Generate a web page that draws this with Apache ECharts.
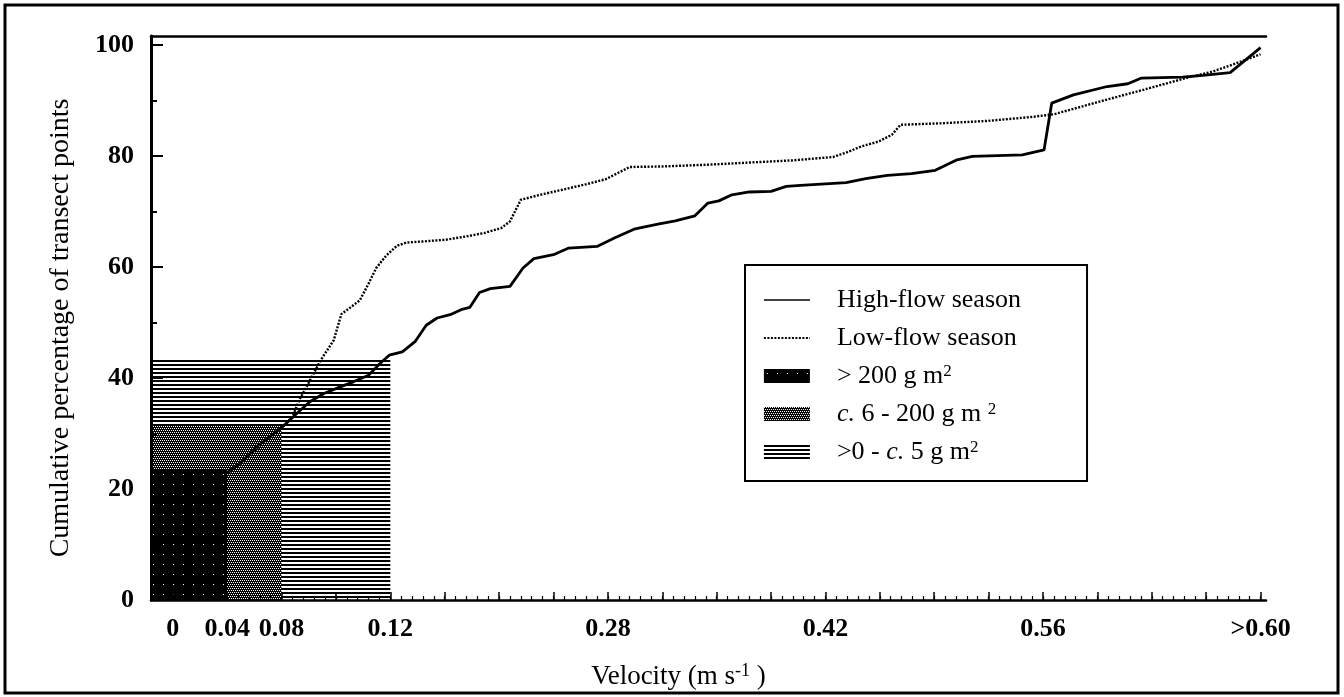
<!DOCTYPE html>
<html><head><meta charset="utf-8">
<script src="https://cdn.jsdelivr.net/npm/echarts@6/dist/echarts.min.js"></script>
<style>html,body{margin:0;padding:0;background:#fff}#c{width:1344px;height:697px}</style>
</head><body><div id="c"></div>
<script>
// ---- data (x is position along the drawn velocity axis, in axis units) ----
const xTickPositions = [0, 5, 10, 20, 40, 60, 80, 100];
const xTickLabels = ['0', '0.04', '0.08', '0.12', '0.28', '0.42', '0.56', '>0.60'];
const yTickValues = [0, 20, 40, 60, 80, 100];
const yMinorTickValues = [10, 30, 50, 70, 90];

const highFlow = [[5,22.8],[6.2,24.6],[7.7,27.6],[9.3,30.0],[10.2,31.4],[11.4,33.6],[12.6,35.7],[13.9,37.2],[15.4,38.4],[16.6,39.3],[18.0,40.5],[19.0,42.5],[19.9,44.1],[21.1,44.7],[22.3,46.6],[23.3,49.5],[24.3,50.8],[25.5,51.4],[26.5,52.3],[27.3,52.7],[28.2,55.4],[29.2,56.1],[31.0,56.5],[32.2,59.8],[33.2,61.5],[35.0,62.2],[36.4,63.4],[39.0,63.7],[40.6,65.2],[42.4,66.8],[44.6,67.7],[46.2,68.3],[48.0,69.2],[49.2,71.5],[50.2,71.9],[51.4,73.0],[53.0,73.5],[55.0,73.6],[56.4,74.5],[57.7,74.7],[61.9,75.2],[63.7,75.9],[65.7,76.5],[67.9,76.8],[70.1,77.4],[72.1,79.3],[73.5,79.9],[78.1,80.2],[80.1,81.1],[80.8,89.5],[82.8,91],[85.9,92.5],[87.8,93],[89.0,94],[92.8,94.2],[94.7,94.5],[97.2,95],[100,99.5]];

const lowFlow = [[5,23],[7,26],[9,29.5],[10.2,31.4],[11,33],[11.7,36.3],[12.3,38.4],[13,41],[13.6,43.2],[14.8,46.8],[15.5,51.5],[16.2,52.5],[17.2,54],[18.0,57],[18.7,59.8],[19.6,62],[20.6,63.8],[21.5,64.4],[23.1,64.6],[25.1,64.9],[27.0,65.5],[28.6,66.1],[30.2,67.0],[31.0,68.2],[32.0,72.1],[33.8,73.0],[35.8,73.9],[37.8,74.8],[39.8,75.8],[40.8,76.8],[42.0,78.0],[45.0,78.1],[49.0,78.4],[53.0,78.8],[57.0,79.2],[60.7,79.8],[61.9,80.6],[63.3,81.7],[64.9,82.6],[66.1,83.8],[66.9,85.6],[70.9,85.9],[74.9,86.3],[78.9,87.0],[81.0,87.5],[85.6,90],[89.4,92],[93.1,94],[95.6,95.2],[97.5,96.5],[100,98.3]];

// biomass classes: upper velocity position and cumulative % reached
const classNames = ['> 200 g m²', 'c. 6 - 200 g m²', '>0 - c. 5 g m²'];
const classVelocityPos = [5, 10, 20];
const classCumPct = [23.4, 31.4, 43.6];

const X_MIN = -2, X_MAX = 100.5, Y_MAX = 101.6;
const FONT = '"Liberation Serif","Times New Roman",serif';

// ---- patterns ----
function mkPattern(w, h, draw) {
  const c = document.createElement('canvas'); c.width = w; c.height = h;
  const g = c.getContext('2d'); draw(g); return { image: c, repeat: 'repeat' };
}
const blackPat = mkPattern(10, 10, g => { g.fillStyle = '#000'; g.fillRect(0,0,10,10); g.fillStyle = '#fff'; g.fillRect(3,4,1,1); });
const stipplePat = mkPattern(4, 4, g => { g.fillStyle = '#000'; g.fillRect(0,0,4,4); g.fillStyle = '#fff'; g.fillRect(0,0,1,1); g.fillRect(2,0,1,1); g.fillRect(1,2,1,1); g.fillRect(3,2,1,1); });
const hatchPat = mkPattern(4, 4, g => { g.fillStyle = '#fff'; g.fillRect(0,0,4,4); g.fillStyle = '#000'; g.fillRect(0,0,4,2); });
const patterns = [blackPat, stipplePat, hatchPat];

function boxSeries(i) {
  return {
    name: classNames[i], type: 'custom', z: 1,
    itemStyle: { color: patterns[i] },
    data: [[classVelocityPos[i], classCumPct[i]]],
    renderItem: function (params, api) {
      const p0 = api.coord([X_MIN, 0]);
      const p1 = api.coord([api.value(0), api.value(1)]);
      return { type: 'rect', shape: { x: p0[0], y: p1[1], width: p1[0] - p0[0], height: p0[1] - p1[1] }, style: { fill: patterns[i] } };
    }
  };
}

const labelMap = {}; xTickPositions.forEach((p, i) => labelMap[p] = xTickLabels[i]);
const majorX = []; for (let v = 0; v <= 100; v += 5) majorX.push(v);
const minorX = []; for (let v = X_MIN; v <= 100; v += 1) minorX.push(v);

const hideSym = { color: 'rgba(0,0,0,0)', opacity: 0, borderWidth: 0 };

const chart = echarts.init(document.getElementById('c'));
chart.setOption({
  animation: false,
  backgroundColor: '#fff',
  grid: { left: 151, right: 78, top: 36, bottom: 96 },
  xAxis: [
    { type: 'value', min: X_MIN, max: X_MAX, z: 5,
      axisLine: { show: true, onZero: false, lineStyle: { color: '#000', width: 2.5 } },
      axisTick: { show: true, inside: true, length: 8, customValues: majorX, lineStyle: { color: '#000', width: 1.5 } },
      axisLabel: { customValues: xTickPositions, formatter: v => labelMap[v] ?? '', color: '#000', fontSize: 26, fontWeight: 'bold', fontFamily: FONT, margin: 16 },
      splitLine: { show: false },
      name: 'Velocity (m s{sup|-1} )', nameLocation: 'middle', nameGap: 62,
      nameTextStyle: { color: '#000', fontSize: 27, fontFamily: FONT, padding: [0, 60, 0, 0], lineHeight: 30,
        rich: { sup: { fontSize: 18, fontFamily: FONT, color: '#000', verticalAlign: 'top', lineHeight: 30 } } }
    },
    { type: 'value', min: X_MIN, max: X_MAX, z: 5, position: 'bottom',
      axisLine: { show: false, onZero: false }, axisLabel: { show: false }, splitLine: { show: false },
      axisTick: { show: true, inside: true, length: 4, customValues: minorX, lineStyle: { color: '#000', width: 1.2 } } },
    { type: 'value', min: X_MIN, max: X_MAX, z: 5, position: 'top',
      axisLine: { show: true, onZero: false, lineStyle: { color: '#000', width: 2.5 } }, axisTick: { show: false }, axisLabel: { show: false }, splitLine: { show: false } }
  ],
  yAxis: [
    { type: 'value', min: 0, max: Y_MAX, z: 5, position: 'left',
      axisLine: { show: true, onZero: false, lineStyle: { color: '#000', width: 3 } },
      axisTick: { show: true, inside: true, length: 12, customValues: yTickValues, lineStyle: { color: '#000', width: 2 } },
      axisLabel: { customValues: yTickValues, color: '#000', fontSize: 26, fontWeight: 'bold', fontFamily: FONT, margin: 17 },
      splitLine: { show: false },
      name: 'Cumulative percentage of transect points', nameLocation: 'middle', nameGap: 76,
      nameTextStyle: { color: '#000', fontSize: 28, fontFamily: FONT, padding: [0, 20, 0, 0] }
    },
    { type: 'value', min: 0, max: Y_MAX, z: 5, position: 'left', offset: 0,
      axisLine: { show: false, onZero: false }, axisLabel: { show: false }, splitLine: { show: false },
      axisTick: { show: true, inside: true, length: 6, customValues: yMinorTickValues, lineStyle: { color: '#000', width: 2 } } }
  ],
  legend: {
    orient: 'vertical', left: 745, top: 265,
    backgroundColor: '#fff', borderColor: '#000', borderWidth: 2, padding: [22, 66, 16, 18],
    itemWidth: 46, itemHeight: 14, itemGap: 12,
    textStyle: { color: '#000', fontSize: 26, fontFamily: FONT, lineHeight: 26, padding: [0, 0, 0, 22],
      rich: {
        it: { fontStyle: 'italic', fontSize: 26, fontFamily: FONT, color: '#000' },
        sup: { fontSize: 17, fontFamily: FONT, color: '#000', verticalAlign: 'top', lineHeight: 26 }
      } },
    formatter: function (name) {
      if (name === classNames[0]) return '> 200 g m{sup|2}';
      if (name === classNames[1]) return '{it|c.} 6 - 200 g m {sup|2}';
      if (name === classNames[2]) return '>0 - {it|c.} 5 g m{sup|2}';
      return name;
    },
    data: [
      { name: 'High-flow season', itemStyle: hideSym, lineStyle: { width: 1.6 } },
      { name: 'Low-flow season', itemStyle: hideSym, lineStyle: { width: 1.8 } },
      { name: classNames[0], icon: 'rect' }, { name: classNames[1], icon: 'rect' }, { name: classNames[2], icon: 'rect' }
    ]
  },
  graphic: [
    { type: 'rect', z: 100, silent: true, shape: { x: 5, y: 5, width: 1333, height: 688 }, style: { fill: 'none', stroke: '#000', lineWidth: 3 } }
  ],
  series: [
    boxSeries(2), boxSeries(1), boxSeries(0),
    { name: 'High-flow season', type: 'line', z: 3, data: highFlow, symbol: 'none', smooth: false,
      lineStyle: { color: '#000', width: 2.8, type: 'solid' }, itemStyle: { color: '#000' } },
    { name: 'Low-flow season', type: 'line', z: 3, data: lowFlow, symbol: 'none', smooth: false,
      lineStyle: { color: '#000', width: 2.4, type: [2, 1.5] }, itemStyle: { color: '#000' } }
  ]
});
</script></body></html>
